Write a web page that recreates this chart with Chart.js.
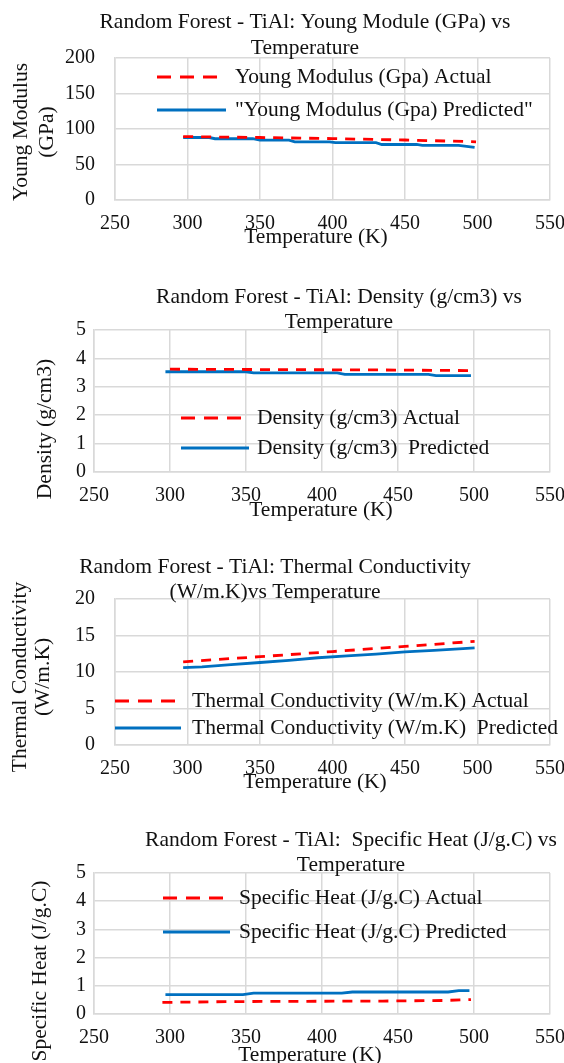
<!DOCTYPE html>
<html>
<head>
<meta charset="utf-8">
<script src="https://cdn.jsdelivr.net/npm/chart.js@4.4.1/dist/chart.umd.min.js"></script>
<style>
  html, body { margin: 0; padding: 0; background: #fff; }
  #page { position: relative; width: 564px; height: 1063px; overflow: hidden; }
  .box { position: absolute; left: 0; width: 564px; }
  canvas { display: block; }
</style>
</head>
<body>
<div id="page">
  <div class="box" style="top:0px"><canvas id="c1" width="564" height="262"></canvas></div>
  <div class="box" style="top:262px"><canvas id="c2" width="564" height="273"></canvas></div>
  <div class="box" style="top:535px"><canvas id="c3" width="564" height="273"></canvas></div>
  <div class="box" style="top:808px"><canvas id="c4" width="564" height="255"></canvas></div>
</div>
<script>
// shared temperature axis (K)
const tempTicks = [250, 300, 350, 400, 450, 500, 550];

// Young modulus (GPa)
const youngTicks = [0, 50, 100, 150, 200];
const youngActualT = [297, 350, 400, 450, 499];
const youngActual = [89.3, 88, 86.5, 84.5, 82];
const youngPredT = [297, 315, 319, 345, 350, 370, 374, 398, 402, 430, 434, 458, 462, 487, 498];
const youngPred = [88, 88, 86.3, 86.3, 84.3, 84.3, 82, 82, 80.8, 80.8, 78.2, 78.2, 76.8, 76.8, 74];

// Density (g/cm3)
const densityTicks = [0, 1, 2, 3, 4, 5];
const densityActualT = [300, 350, 400, 450, 499];
const densityActual = [3.62, 3.61, 3.6, 3.59, 3.57];
const densityPredT = [297, 350, 355, 410, 415, 470, 475, 498];
const densityPred = [3.53, 3.53, 3.49, 3.49, 3.44, 3.44, 3.39, 3.39];

// Thermal conductivity (W/m.K)
const thermalTicks = [0, 5, 10, 15, 20];
const thermalActualT = [297, 350, 400, 450, 498];
const thermalActual = [11.4, 12.1, 12.8, 13.5, 14.2];
const thermalPredT = [297, 310, 330, 350, 370, 390, 410, 430, 450, 470, 490, 498];
const thermalPred = [10.6, 10.7, 11.0, 11.3, 11.6, 11.95, 12.2, 12.45, 12.75, 12.95, 13.2, 13.3];

// Specific heat (J/g.C)
const heatTicks = [0, 1, 2, 3, 4, 5];
const heatActualT = [295, 340, 390, 440, 480, 498];
const heatActual = [0.41, 0.44, 0.45, 0.46, 0.48, 0.51];
const heatPredT = [297, 348, 355, 413, 420, 483, 490, 497];
const heatPred = [0.69, 0.69, 0.74, 0.74, 0.78, 0.78, 0.83, 0.83];

const FONT = "'Liberation Serif', 'Times New Roman', serif";
const INK = '#111111';
const GRID = '#d9d9d9';

function pts(xs, ys) {
  return xs.map((x, i) => ({ x: x, y: ys[i] }));
}

// draws titles, axis titles and the in-plot legend
const annotate = {
  id: 'annotate',
  afterDraw(chart, args, o) {
    const ctx = chart.ctx;
    ctx.save();
    ctx.fillStyle = INK;
    ctx.textBaseline = 'middle';
    ctx.font = '21.5px ' + FONT;
    ctx.textAlign = 'center';
    o.title.lines.forEach((s, i) => ctx.fillText(s, o.title.x, o.title.y[i]));
    ctx.fillText('Temperature (K)', o.xTitle.x, o.xTitle.y);
    o.yTitle.lines.forEach((s, i) => {
      ctx.save();
      ctx.translate(o.yTitle.x[i], o.yTitle.y);
      ctx.rotate(-Math.PI / 2);
      ctx.fillText(s, 0, 0);
      ctx.restore();
    });
    chart.data.datasets.forEach((ds, i) => {
      const y = o.legend.y[i];
      ctx.beginPath();
      ctx.strokeStyle = ds.borderColor;
      ctx.lineWidth = ds.borderWidth;
      ctx.setLineDash(ds.borderDash ? [14, 9] : []);
      ctx.moveTo(o.legend.x0, y);
      ctx.lineTo(o.legend.x1, y);
      ctx.stroke();
      ctx.setLineDash([]);
      ctx.textAlign = 'left';
      ctx.fillText(ds.label, o.legend.tx, y);
    });
    ctx.restore();
  }
};

function makeChart(id, cfg) {
  const H = document.getElementById(id).height;
  const yt = cfg.yTicks;
  return new Chart(document.getElementById(id), {
    type: 'line',
    data: {
      datasets: [{
        label: cfg.labels[0],
        data: pts(cfg.actualT, cfg.actual),
        borderColor: '#ff0000',
        borderWidth: 2.8,
        borderDash: [10, 8],
        pointRadius: 0,
        tension: 0,
        fill: false
      }, {
        label: cfg.labels[1],
        data: pts(cfg.predT, cfg.pred),
        borderColor: '#0070c0',
        borderWidth: 2.8,
        pointRadius: 0,
        tension: 0,
        fill: false
      }]
    },
    options: {
      responsive: false,
      animation: false,
      layout: { padding: { top: cfg.top, right: 14, left: 0, bottom: 0 } },
      plugins: {
        legend: { display: false },
        title: { display: false },
        tooltip: { enabled: false },
        annotate: cfg.text
      },
      scales: {
        x: {
          type: 'linear',
          min: tempTicks[0],
          max: tempTicks[tempTicks.length - 1],
          ticks: { stepSize: 50, padding: 12, color: INK, font: { family: FONT, size: 20 } },
          grid: { color: GRID, lineWidth: 1.5, drawTicks: false },
          border: { color: GRID, width: 1.5 },
          afterFit(s) { s.height = H - cfg.bottom; s.paddingLeft = 0; s.paddingRight = 0; }
        },
        y: {
          min: yt[0],
          max: yt[yt.length - 1],
          ticks: { stepSize: yt[1] - yt[0], padding: cfg.tickPad, color: INK, font: { family: FONT, size: 20 } },
          grid: { color: GRID, lineWidth: 1.5, drawTicks: false },
          border: { color: GRID, width: 1.5 },
          afterFit(s) { s.width = cfg.left; s.paddingTop = 0; s.paddingBottom = 0; }
        }
      }
    },
    plugins: [annotate]
  });
}

makeChart('c1', {
  yTicks: youngTicks, actualT: youngActualT, actual: youngActual, predT: youngPredT, pred: youngPred,
  labels: ['Young Modulus (Gpa) Actual', '"Young Modulus (Gpa) Predicted"'],
  left: 115, top: 58, bottom: 200, tickPad: 20,
  text: {
    title: { lines: ['Random Forest - TiAl: Young Module (GPa) vs', 'Temperature'], x: 305, y: [22, 48] },
    xTitle: { x: 316, y: 237 },
    yTitle: { lines: ['Young Modulus', '(GPa)'], x: [21, 47], y: 132 },
    legend: { y: [77, 110], x0: 157, x1: 226, tx: 235 }
  }
});

makeChart('c2', {
  yTicks: densityTicks, actualT: densityActualT, actual: densityActual, predT: densityPredT, pred: densityPred,
  labels: ['Density (g/cm3) Actual', 'Density (g/cm3)  Predicted'],
  left: 94, top: 68, bottom: 210, tickPad: 8,
  text: {
    title: { lines: ['Random Forest - TiAl: Density (g/cm3) vs', 'Temperature'], x: 339, y: [35, 60] },
    xTitle: { x: 321, y: 248 },
    yTitle: { lines: ['Density (g/cm3)'], x: [45], y: 167 },
    legend: { y: [156, 186], x0: 181, x1: 249, tx: 257 }
  }
});

makeChart('c3', {
  yTicks: thermalTicks, actualT: thermalActualT, actual: thermalActual, predT: thermalPredT, pred: thermalPred,
  labels: ['Thermal Conductivity (W/m.K) Actual', 'Thermal Conductivity (W/m.K)  Predicted'],
  left: 115, top: 64, bottom: 210, tickPad: 20,
  text: {
    title: { lines: ['Random Forest - TiAl: Thermal Conductivity', '(W/m.K)vs Temperature'], x: 275, y: [32, 57] },
    xTitle: { x: 315, y: 247 },
    yTitle: { lines: ['Thermal Conductivity', '(W/m.K)'], x: [20, 43], y: 142 },
    legend: { y: [166, 193], x0: 115, x1: 181, tx: 192 }
  }
});

makeChart('c4', {
  yTicks: heatTicks, actualT: heatActualT, actual: heatActual, predT: heatPredT, pred: heatPred,
  labels: ['Specific Heat (J/g.C) Actual', 'Specific Heat (J/g.C) Predicted'],
  left: 94, top: 65, bottom: 206, tickPad: 8,
  text: {
    title: { lines: ['Random Forest - TiAl:  Specific Heat (J/g.C) vs', 'Temperature'], x: 351, y: [32, 57] },
    xTitle: { x: 310, y: 247 },
    yTitle: { lines: ['Specific Heat (J/g.C)'], x: [40], y: 163 },
    legend: { y: [90, 124], x0: 163, x1: 230, tx: 239 }
  }
});
</script>
</body>
</html>
